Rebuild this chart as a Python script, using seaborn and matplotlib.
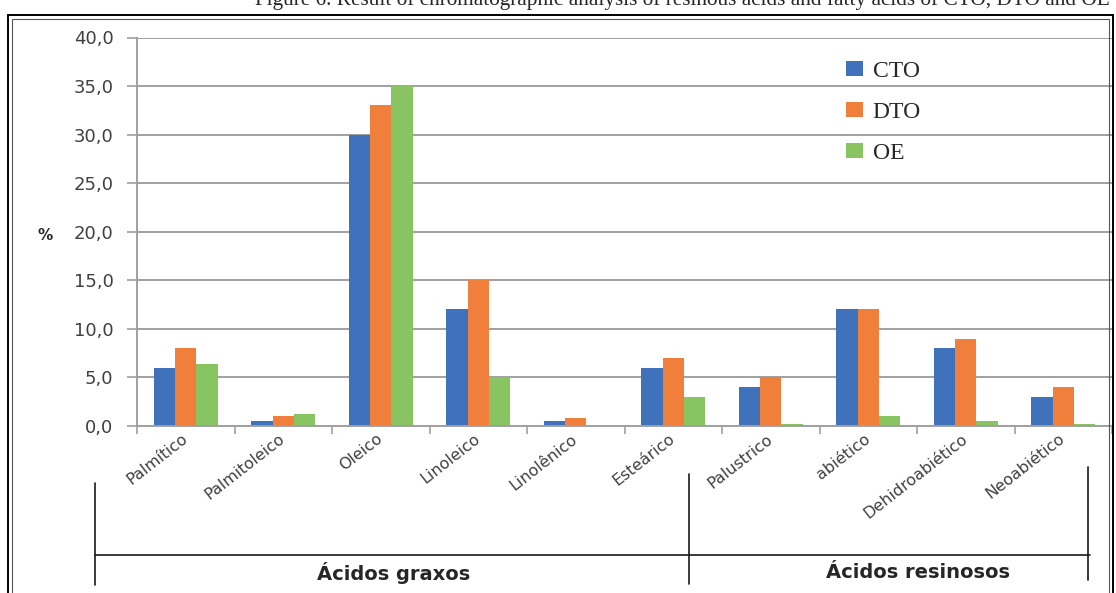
import numpy as np
import pandas as pd
import seaborn as sns
import matplotlib.pyplot as plt
from matplotlib.ticker import FuncFormatter
from matplotlib.lines import Line2D
from matplotlib.patches import Rectangle

acids = ['Palmítico', 'Palmitoleico', 'Oleico', 'Linoleico', 'Linolênico',
         'Esteárico', 'Palustrico', 'abiético', 'Dehidroabiético', 'Neoabiético']
cto = [6.0, 0.5, 30.0, 12.0, 0.5, 6.0, 4.0, 12.0, 8.0, 3.0]
dto = [8.0, 1.0, 33.0, 15.0, 0.8, 7.0, 5.0, 12.0, 9.0, 4.0]
oe = [6.4, 1.2, 35.0, 5.0, 0.0, 3.0, 0.2, 1.0, 0.5, 0.2]
samples = ['CTO', 'DTO', 'OE']
groups = ['Ácidos graxos', 'Ácidos resinosos']
caption = 'Figure 6. Result of chromatographic analysis of resinous acids and fatty acids of CTO, DTO and OE'

colors = ['#3F72BA', '#EF7F3B', '#89C462']
W, H = 1116, 593

df = pd.DataFrame({
    'Ácido': acids * 3,
    'Amostra': [s for s in samples for _ in acids],
    'valor': cto + dto + oe,
})

sns.set_style('white')
plt.rcParams['font.family'] = ['DejaVu Sans']

fig = plt.figure(figsize=(W / 100, H / 100), dpi=100)
ax = fig.add_axes([137 / W, 1 - 426 / H, (1112 - 137) / W, (426 - 37.5) / H])

sns.barplot(data=df, x='Ácido', y='valor', hue='Amostra', palette=colors,
            width=0.66, saturation=1, errorbar=None, linewidth=0, ax=ax)

ax.set_xlim(-0.5, 9.5)
ax.set_ylim(0, 40)
ax.set_yticks(np.arange(0, 41, 5))
ax.yaxis.set_major_formatter(FuncFormatter(lambda v, p: f'{v:.1f}'.replace('.', ',')))
ax.grid(axis='y', color='#A0A0A0', linewidth=1.4)
ax.set_axisbelow(True)
for s in ['top', 'right']:
    ax.spines[s].set_visible(False)
for s in ['left', 'bottom']:
    ax.spines[s].set_color('#A0A0A0')
    ax.spines[s].set_linewidth(1.4)

ax.tick_params(axis='y', left=True, length=7, width=1.2, color='#A0A0A0',
               labelsize=13, labelcolor='#404040', pad=10)
ax.set_xticks(np.arange(-0.5, 10), minor=True)
ax.tick_params(axis='x', which='minor', bottom=True, length=6, width=1.2, color='#A0A0A0')
ax.tick_params(axis='x', which='major', length=0, labelsize=11.5, labelcolor='#404040', pad=8)
plt.setp(ax.get_xticklabels(), rotation=38, ha='right', va='center', rotation_mode='anchor')

ax.set_xlabel('')
ax.set_ylabel('%', rotation=0, fontweight='bold', fontsize=11, color='#262626')
ax.yaxis.set_label_coords(-0.094, 0.47)

ax.legend(loc='upper left', bbox_to_anchor=(0.705, 0.995), frameon=False,
          prop={'family': 'Liberation Serif', 'size': 17},
          handlelength=0.75, handleheight=0.6, labelspacing=0.85, handletextpad=0.4)

# category grouping below the axis
line_kw = dict(color='#1a1a1a', linewidth=1.2)
fig.add_artist(Line2D([95 / W, 1090 / W], [1 - 555 / H] * 2, **line_kw))
fig.add_artist(Line2D([95 / W] * 2, [1 - 483 / H, 1 - 585 / H], **line_kw))
fig.add_artist(Line2D([689 / W] * 2, [1 - 474 / H, 1 - 584 / H], **line_kw))
fig.add_artist(Line2D([1088 / W] * 2, [1 - 467 / H, 1 - 580 / H], **line_kw))
fig.text(394 / W, 1 - 573 / H, groups[0], ha='center', va='center',
         fontweight='bold', fontsize=14, color='#262626')
fig.text(918 / W, 1 - 573 / H, groups[1], ha='center', va='center',
         fontweight='bold', fontsize=14, color='#262626')

# page frame and caption, cut off at the top as in the source screenshot
fig.add_artist(Rectangle((8 / W, -0.05), (1113 - 8) / W, (H - 15) / H + 0.05,
                         transform=fig.transFigure, fill=False, ec='black', lw=1.4))
fig.add_artist(Rectangle((12 / W, -0.05), (1109 - 12) / W, (H - 19) / H + 0.05,
                         transform=fig.transFigure, fill=False, ec='#555555', lw=0.8))
fig.text(255 / W, 1 - 5 / H, caption, family='Liberation Serif', fontsize=15.3,
         va='baseline', ha='left')

fig.savefig('out.png', dpi=100)
